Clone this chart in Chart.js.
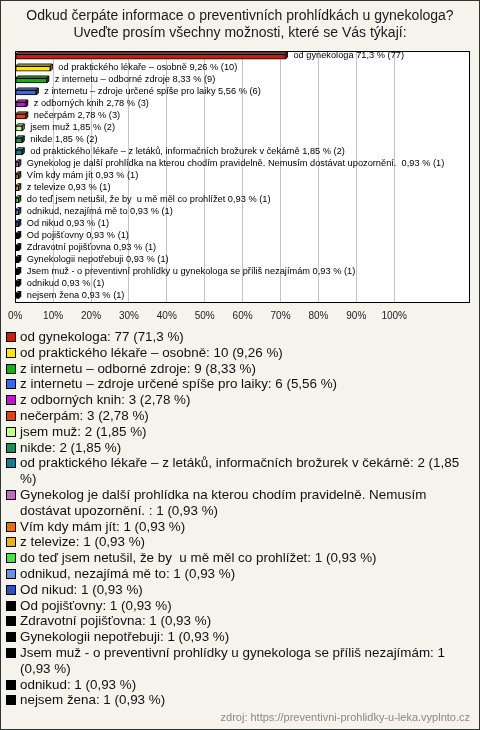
<!DOCTYPE html>
<html>
<head>
<meta charset="utf-8">
<title>Odkud čerpáte informace o preventivních prohlídkách</title>
<style>
    body {
        margin: 0;
        background: #f4f4ec;
    }

    .frame {
        position: relative;
        width: 480px;
        height: 730px;
        background: #f4f4ec;
        overflow: hidden;
        font-family: "Liberation Sans", Arial, sans-serif;
    }

    .frame:after {
        content: '';
        position: absolute;
        left: 0; top: 0; right: 0; bottom: 0;
        border: 1px solid #333;
        pointer-events: none;
    }

    #chart {
        position: absolute;
        left: 0;
        top: 0;
    }

    #legend {
        position: absolute;
        left: 20px;
        top: 329px;
        width: 450px;
        font-size: 13.4px;
        color: #111;
    }

    .item {
        position: relative;
        line-height: 15.8px;
        white-space: pre-wrap;
    }

    .item i {
        position: absolute;
        left: -14px;
        top: 3px;
        width: 8px;
        height: 8px;
        border: 1px solid #000;
    }

    #source {
        position: absolute;
        right: 10px;
        top: 711px;
        font-size: 11px;
        color: #888;
    }
</style>
</head>
<body>
<div class="frame">
    <canvas id="chart" width="480" height="330" style="width:480px;height:330px"></canvas>
    <div id="legend"></div>
    <div id="source">zdroj: https://preventivni-prohlidky-u-leka.vyplnto.cz</div>
</div>

<script src="https://cdn.jsdelivr.net/npm/chart.js"></script>
<script>
    var titleLines = [
        'Odkud čerpáte informace o preventivních prohlídkách u gynekologa?',
        'Uveďte prosím všechny možnosti, které se Vás týkají:'
    ];

    var categories = [
        'od gynekologa',
        'od praktického lékaře – osobně',
        'z internetu – odborné zdroje',
        'z internetu – zdroje určené spíše pro laiky',
        'z odborných knih',
        'nečerpám',
        'jsem muž',
        'nikde',
        'od praktického lékaře – z letáků, informačních brožurek v čekárně',
        'Gynekolog je další prohlídka na kterou chodím pravidelně. Nemusím dostávat upozornění. ',
        'Vím kdy mám jít',
        'z televize',
        'do teď jsem netušil, že by  u mě měl co prohlížet',
        'odnikud, nezajímá mě to',
        'Od nikud',
        'Od pojišťovny',
        'Zdravotní pojišťovna',
        'Gynekologii nepotřebuji',
        'Jsem muž - o preventivní prohlídky u gynekologa se příliš nezajímám',
        'odnikud',
        'nejsem žena'
    ];

    var counts = [77, 10, 9, 6, 3, 3, 2, 2, 2, 1, 1, 1, 1, 1, 1, 1, 1, 1, 1, 1, 1];

    var percents = [71.3, 9.26, 8.33, 5.56, 2.78, 2.78, 1.85, 1.85, 1.85,
        0.93, 0.93, 0.93, 0.93, 0.93, 0.93, 0.93, 0.93, 0.93, 0.93, 0.93, 0.93];

    var colors = [
        '#c81e0f', '#ffe600', '#12b012', '#3a66f0', '#c414d0', '#e2420e',
        '#c4ff86', '#16905a', '#167c92', '#c468c4', '#e27214', '#e4b414',
        '#44e444', '#6892e2', '#2a50c4', '#000000', '#000000', '#000000',
        '#000000', '#000000', '#000000'
    ];

    var tickLabels = ['0%', '10%', '20%', '30%', '40%', '50%', '60%', '70%', '80%', '90%', '100%'];

    function fmt(v) {
        return String(v).replace('.', ',');
    }

    function shade(hex, f) {
        var n = parseInt(hex.slice(1), 16);
        var c = [(n >> 16) & 255, (n >> 8) & 255, n & 255].map(function (v) {
            return Math.round(f > 0 ? v + (255 - v) * f : v * (1 + f));
        });
        return 'rgb(' + c.join(',') + ')';
    }

    Chart.defaults.font.family = '"Liberation Sans", Arial, sans-serif';

    // white plot area with black frame
    var plotFrame = {
        id: 'plotFrame',
        beforeDraw: function (chart) {
            var a = chart.chartArea, ctx = chart.ctx;
            ctx.save();
            ctx.fillStyle = '#ffffff';
            ctx.fillRect(a.left, a.top, a.right - a.left, a.bottom - a.top);
            ctx.restore();
        },
        afterDraw: function (chart) {
            var a = chart.chartArea, ctx = chart.ctx;
            ctx.save();
            ctx.strokeStyle = '#000';
            ctx.lineWidth = 1;
            ctx.strokeRect(Math.round(a.left) + 0.5, Math.round(a.top) + 0.5,
                Math.round(a.right - a.left) - 1, Math.round(a.bottom - a.top));
            ctx.restore();
        }
    };

    // fake 3D faces + labels at bar ends
    var bars3d = {
        id: 'bars3d',
        afterDatasetsDraw: function (chart) {
            var ctx = chart.ctx;
            var meta = chart.getDatasetMeta(0);
            var d = 2;
            ctx.save();
            ctx.lineWidth = 1;
            ctx.strokeStyle = '#000';
            meta.data.forEach(function (el, i) {
                var p = el.getProps(['x', 'y', 'base', 'height'], true);
                var x0 = Math.min(p.base, p.x), x1 = Math.max(p.base, p.x);
                var yt = p.y - p.height / 2, yb = p.y + p.height / 2;

                ctx.beginPath();
                ctx.moveTo(x0, yt);
                ctx.lineTo(x0 + d, yt - d);
                ctx.lineTo(x1 + d, yt - d);
                ctx.lineTo(x1, yt);
                ctx.closePath();
                ctx.fillStyle = shade(colors[i], 0.35);
                ctx.fill();
                ctx.stroke();

                ctx.beginPath();
                ctx.moveTo(x1, yt);
                ctx.lineTo(x1 + d, yt - d);
                ctx.lineTo(x1 + d, yb - d);
                ctx.lineTo(x1, yb);
                ctx.closePath();
                ctx.fillStyle = shade(colors[i], -0.35);
                ctx.fill();
                ctx.stroke();

                ctx.fillStyle = '#000';
                ctx.font = '9.25px "Liberation Sans", Arial, sans-serif';
                ctx.textBaseline = 'middle';
                ctx.textAlign = 'left';
                ctx.fillText(categories[i] + ' ' + fmt(percents[i]) + ' % (' + counts[i] + ')', x1 + d + 6, p.y - 1);
            });
            ctx.restore();
        }
    };

    var chart = new Chart(document.getElementById('chart').getContext('2d'), {
        type: 'bar',
        data: {
            labels: categories,
            datasets: [{
                data: percents,
                backgroundColor: colors,
                borderColor: '#000',
                borderWidth: 1,
                borderSkipped: false,
                barThickness: 5
            }]
        },
        options: {
            responsive: false,
            animation: false,
            indexAxis: 'y',
            layout: { padding: { left: 10, right: 10, top: 0, bottom: 4 } },
            plugins: {
                legend: { display: false },
                tooltip: { enabled: false },
                title: {
                    display: true,
                    text: titleLines,
                    color: '#1a1a1a',
                    font: { size: 14, weight: 'normal' },
                    padding: { top: 8, bottom: 9 }
                }
            },
            scales: {
                x: {
                    min: 0,
                    max: 120,
                    border: { display: false },
                    afterFit: function (s) { s.height = 24; },
                    grid: {
                        drawTicks: false,
                        color: function (c) {
                            return c.tick && c.tick.value > 0 && c.tick.value <= 100 ? '#c4c4c4' : 'rgba(0,0,0,0)';
                        }
                    },
                    ticks: {
                        stepSize: 10,
                        padding: 8,
                        autoSkip: false,
                        maxRotation: 0,
                        color: '#222',
                        font: { size: 10 },
                        callback: function (v) {
                            return v <= 100 ? tickLabels[v / 10] : '';
                        }
                    }
                },
                y: { display: false, grid: { display: false } }
            }
        },
        plugins: [plotFrame, bars3d]
    });

    // legend below the chart, built from the same arrays
    var legend = document.getElementById('legend');
    categories.forEach(function (cat, i) {
        var div = document.createElement('div');
        div.className = 'item';
        var sq = document.createElement('i');
        sq.style.background = colors[i];
        div.appendChild(sq);
        div.appendChild(document.createTextNode(cat + ': ' + counts[i] + ' (' + fmt(percents[i]) + ' %)'));
        legend.appendChild(div);
    });
</script>
</body>
</html>
